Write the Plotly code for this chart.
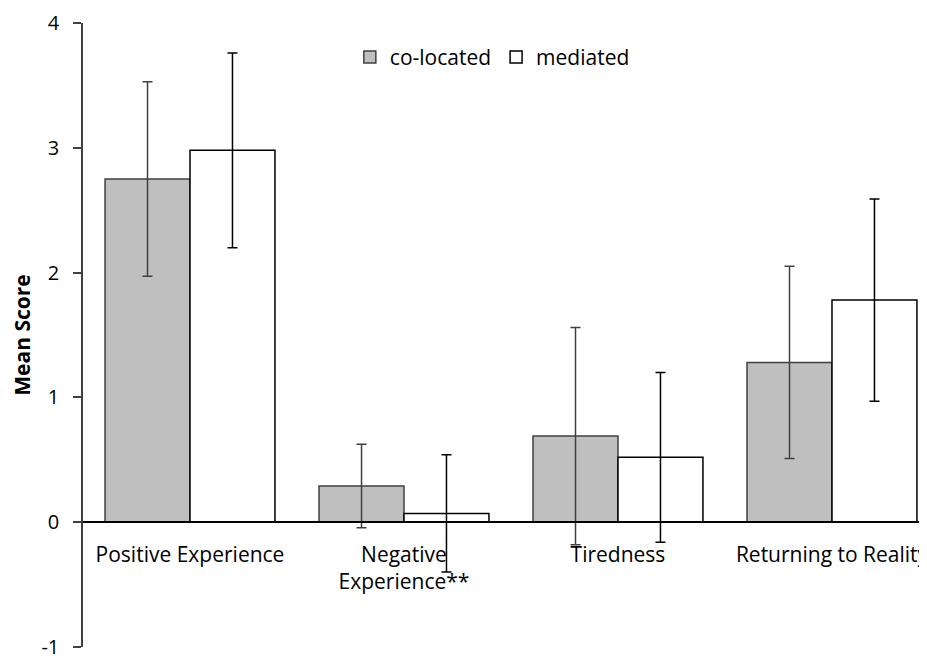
import plotly.graph_objects as go

categories = ["Positive Experience", "Negative<br>Experience**", "Tiredness", "Returning to Reality"]
colocated = [2.75, 0.29, 0.69, 1.28]
colocated_err = [0.78, 0.335, 0.87, 0.77]
mediated = [2.98, 0.07, 0.52, 1.78]
mediated_err = [0.78, 0.47, 0.68, 0.81]
y_ticks = [-1, 0, 1, 2, 3, 4]

FONT = "Open Sans"

fig = go.Figure()
fig.add_trace(go.Bar(
    name="co-located", x=categories, y=colocated,
    marker=dict(color="#BFBFBF", line=dict(color="#404040", width=1.5)),
    error_y=dict(type="data", array=colocated_err, color="#404040", thickness=1.5, width=5),
))
fig.add_trace(go.Bar(
    name="mediated", x=categories, y=mediated,
    marker=dict(color="#FFFFFF", line=dict(color="#000000", width=1.5)),
    error_y=dict(type="data", array=mediated_err, color="#000000", thickness=1.5, width=5),
))

# page has an 8px body margin, so the figure is sized to fill the remaining window
fig.update_layout(
    width=919, height=653,
    margin=dict(l=75, r=0, t=15, b=14, autoexpand=False),
    plot_bgcolor="white", paper_bgcolor="white",
    barmode="group", bargap=0.206, bargroupgap=0,
    font=dict(family=FONT, size=21, color="#000000"),
    legend=dict(orientation="h", x=0.485, y=0.945, xanchor="center", yanchor="middle",
                font=dict(family=FONT, size=21, color="#000000"), itemwidth=30,
                bgcolor="rgba(0,0,0,0)"),
    xaxis=dict(
        range=[-0.5, 3.444], anchor="free", position=0.2, automargin=False,
        showline=True, linecolor="#000000", linewidth=1.5,
        ticks="", showgrid=False, zeroline=False,
        tickfont=dict(family=FONT, size=21, color="#000000"),
        ticklabelstandoff=14, ticklabeloverflow="allow",
    ),
    yaxis=dict(
        range=[-1, 4], tickvals=y_ticks, ticktext=[str(v) for v in y_ticks],
        automargin=False,
        showline=True, linecolor="#404040", linewidth=1.5,
        ticks="outside", ticklen=8, tickcolor="#404040", tickwidth=1.5,
        showgrid=False, zeroline=False,
        tickfont=dict(family=FONT, size=20, color="#000000"),
        ticklabelstandoff=10, ticklabeloverflow="allow",
        title=dict(text="<b>Mean Score</b>", font=dict(family=FONT, size=21, color="#000000"), standoff=13),
    ),
)

fig.write_html("out.html")
